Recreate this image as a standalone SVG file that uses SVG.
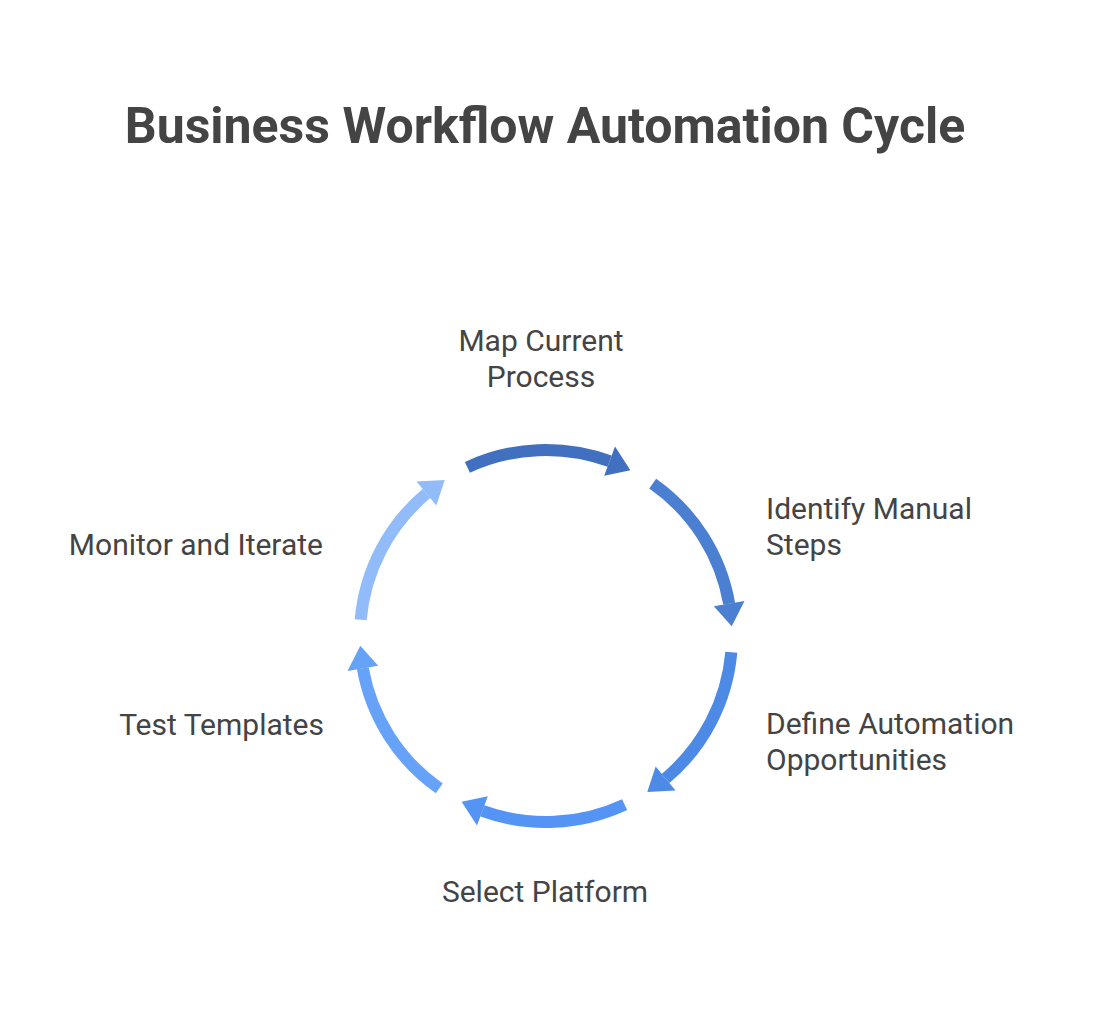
<svg xmlns="http://www.w3.org/2000/svg" width="1103" height="1020" viewBox="0 0 1103 1020">
<style>
text{font-family:Roboto,"Liberation Sans",sans-serif;fill:#444}
.t{font-size:50px;font-weight:bold}
.l{font-size:30px}
.arc{fill:none;stroke-width:12}
</style>
<defs>
<g id="seg"><path class="arc" d="M -78.6 -168.6 A 186 186 0 0 1 63.6 -174.8"/><polygon points="58.2,-160.2 69,-189.4 84.4,-165.7" stroke="none"/></g>
</defs>
<rect width="1103" height="1020" fill="#fff"/>
<text class="t" x="545" y="143" text-anchor="middle">Business Workflow Automation Cycle</text>
<g id="connectors">
<g transform="translate(546,636) rotate(0)" stroke="#4170c0" fill="#4170c0"><use href="#seg"/></g>
<g transform="translate(546,636) rotate(60)" stroke="#4a7fd2" fill="#4a7fd2"><use href="#seg"/></g>
<g transform="translate(546,636) rotate(120)" stroke="#4d8ae6" fill="#4d8ae6"><use href="#seg"/></g>
<g transform="translate(546,636) rotate(180)" stroke="#5394f5" fill="#5394f5"><use href="#seg"/></g>
<g transform="translate(546,636) rotate(240)" stroke="#66a2f7" fill="#66a2f7"><use href="#seg"/></g>
<g transform="translate(546,636) rotate(300)" stroke="#92bbf9" fill="#92bbf9"><use href="#seg"/></g>
</g>
<g id="n1"><text class="l" x="541" y="351" text-anchor="middle">Map Current</text><text class="l" x="541" y="387" text-anchor="middle">Process</text></g>
<g id="n2"><text class="l" x="766" y="519">Identify Manual</text><text class="l" x="766" y="555">Steps</text></g>
<g id="n3"><text class="l" x="766" y="734">Define Automation</text><text class="l" x="766" y="770">Opportunities</text></g>
<g id="n4"><text class="l" x="545" y="902" text-anchor="middle">Select Platform</text></g>
<g id="n5"><text class="l" x="324" y="735" text-anchor="end">Test Templates</text></g>
<g id="n6"><text class="l" x="323" y="555" text-anchor="end">Monitor and Iterate</text></g>
</svg>
